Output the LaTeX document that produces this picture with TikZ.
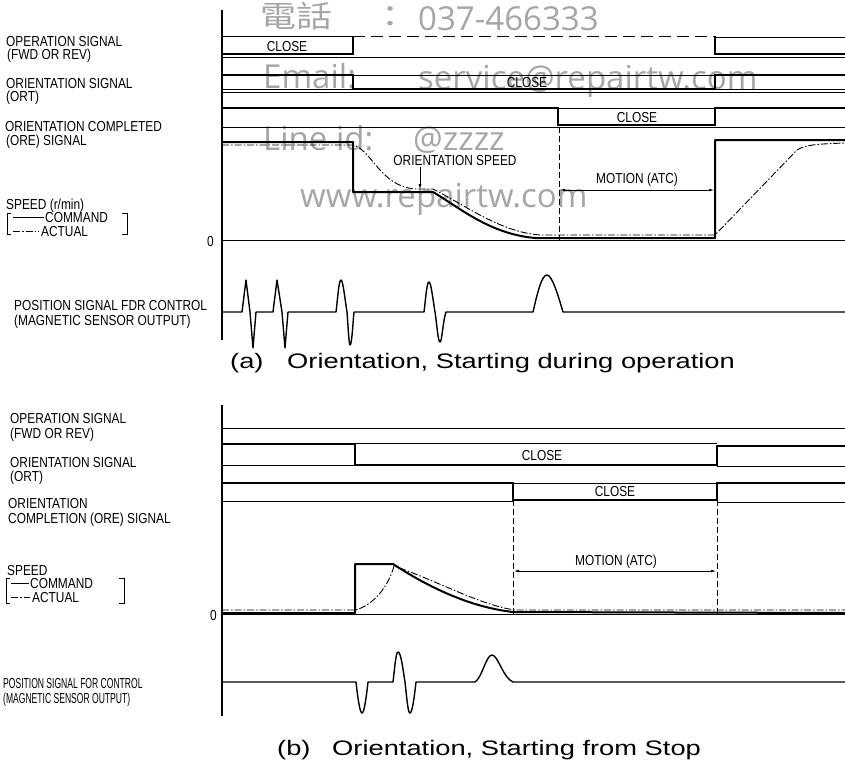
\documentclass[tikz,border=0pt]{standalone}
\usepackage{fontspec}
\usepackage{graphicx}
\usetikzlibrary{arrows.meta}
\setmainfont{Liberation Sans}
\newfontfamily\lblfont[FakeStretch=0.82]{Liberation Sans}
\newfontfamily\capfont[FakeStretch=1.3]{Liberation Sans}
\newfontfamily\wmfont{Open Sans}
\newfontfamily\wmcjk[FakeStretch=1.2]{Noto Sans CJK TC}
\begin{document}
\begin{tikzpicture}[x=1pt,y=-1pt,
  lbl/.style={font=\lblfont\fontsize{14.5}{15}\selectfont, anchor=base west, inner sep=0pt,
    text height=10.4pt, text depth=0.4pt},
  sml/.style={font=\lblfont\fontsize{14.5}{15}\selectfont, inner sep=0pt,
    text height=10.4pt, text depth=0.4pt},
  capt/.style={font=\capfont\fontsize{21}{24}\selectfont, anchor=base west, inner sep=0pt},
  wm/.style={text=black!35, anchor=base west, inner sep=0pt, font=\wmfont\fontsize{33}{36}\selectfont},
  thinl/.style={line width=0.9pt},
  thickl/.style={line width=2pt},
  axisl/.style={line width=1.3pt},
  cmdl/.style={line width=2pt, line join=round},
  actl/.style={line width=0.9pt, dash pattern=on 7pt off 2pt on 1.5pt off 2pt},
  dashv/.style={line width=0.9pt, dash pattern=on 6pt off 3pt},
  pulse/.style={line width=1.4pt, line join=round},
  dimarrow/.style={line width=0.9pt, {Latex[length=6pt,width=2.6pt]}-{Latex[length=6pt,width=2.6pt]}}
]
\useasboundingbox (0,0) rectangle (845,761);
\fill[white] (0,0) rectangle (845,761);

% ---------------- watermark ----------------
\node[wm, font=\wmcjk\fontsize{30}{32}\selectfont] (wmA) at (260,27) {電話};
\node[wm, font=\wmcjk\fontsize{30}{32}\selectfont] (wmB) at (372,27) {：};
\node[wm] (wmC) at (418,30) {037-466333};
\node[wm] (wmD) at (263,88) {Email:};
\node[wm] (wmE) at (418,89) {service@repairtw.com};
\node[wm] (wmF) at (263,150) {Line id:};
\node[wm] (wmG) at (413,150) {@zzzz};
\node[wm] (wmH) at (300,207) {www.repairtw.com};

% =============== (a) ===============
% left labels
\node[lbl] (a1) at (6,46) {OPERATION SIGNAL};
\node[lbl] (a2) at (7,59) {(FWD OR REV)};
\node[lbl] (a3) at (6,88) {ORIENTATION SIGNAL};
\node[lbl] (a4) at (6,101) {(ORT)};
\node[lbl] (a5) at (5,131) {ORIENTATION COMPLETED};
\node[lbl] (a6) at (6,145) {(ORE) SIGNAL};
\node[lbl] (a7) at (6,209) {SPEED (r/min)};
\node[lbl] (a8) at (45,222) {COMMAND};
\node[lbl] (a9) at (41,236) {ACTUAL};
\node[lbl] (a10) at (207,246) {0};
\node[lbl] (a11) at (14,310) {POSITION SIGNAL FDR CONTROL};
\node[lbl] (a12) at (14,325) {(MAGNETIC SENSOR OUTPUT)};
% legend marks
\draw[thinl] (11,213) -- (7,213) -- (7,234) -- (11,234);
\draw[thinl] (122,213) -- (127,213) -- (127,234) -- (122,234);
\draw[thinl] (13,217) -- (44,217);
\draw[actl] (13,231) -- (39,231);

% axis
\draw[axisl] (222,10) -- (222,340);

% operation signal
\draw[thinl] (222,36) -- (353,36);
\draw[thickl] (222,54) -- (353,54) -- (353,36);
\draw[thinl, dash pattern=on 12pt off 6pt] (353,36) -- (715,36);
\draw[thickl] (715,36) -- (715,54) -- (845,54);
\draw[thinl] (715,37) -- (845,37);
\draw[thinl] (222,57) -- (845,57);
\node[sml] (aC1) at (287,46) {CLOSE};

% orientation signal
\draw[thinl] (353,75) -- (715,75);
\draw[thinl] (222,89) -- (353,89);
\draw[thinl] (715,89) -- (845,89);
\draw[thickl] (222,75) -- (353,75) -- (353,89) -- (715,89) -- (715,75) -- (845,75);
\draw[thinl] (222,92) -- (845,92);
\node[sml] (aC2) at (527,82) {CLOSE};

% orientation completed
\draw[thinl] (558,108) -- (715,108);
\draw[thickl] (222,108) -- (558,108) -- (558,125) -- (715,125) -- (715,108) -- (845,108);
\draw[thinl] (222,127) -- (845,127);
\node[sml] (aC3) at (637,117) {CLOSE};

% speed
\draw[thinl] (222,240) -- (845,240);
\draw[cmdl] (222,142) -- (353,142) -- (353,192) -- (433,192)
  .. controls (460,208) and (490,234) .. (535,238) -- (715,238) -- (715,140) -- (845,140);
\draw[actl] (222,145) -- (353,145) .. controls (372,150) and (380,186) .. (415,189)
  -- (433,189) .. controls (465,205) and (500,232) .. (540,235) -- (715,235)
  -- (797,150) .. controls (805,145) and (815,144) .. (845,143);
\node[sml] (aOS) at (455,160) {ORIENTATION SPEED};
\coordinate (aOSt) at (420,167);
\coordinate (aOSh) at (420,190);
\draw[line width=0.9pt, -{Latex[length=6pt,width=3pt]}] (aOSt) -- (aOSh);
\coordinate (aV1) at (559,127);
\coordinate (aV2) at (559,240);
\draw[dashv] (aV1) -- (aV2);
\coordinate (aM1) at (559,190);
\coordinate (aM2) at (715,190);
\draw[dimarrow] (aM1) -- (aM2);
\node[sml] (aMT) at (637,178) {MOTION (ATC)};

% position signal
\draw[pulse] (222,312) -- (242,312) -- (246,280) -- (250,312) -- (253,348) -- (256,312)
  -- (273,312) -- (277,280) -- (282,312) -- (285,348) -- (288,312)
  -- (336,312) .. controls (338,295) and (339,280) .. (341,280)
  .. controls (343,280) and (345,300) .. (347,312)
  .. controls (348,325) and (349,345) .. (350,345)
  .. controls (352,345) and (353,320) .. (354,312)
  -- (424,312) .. controls (426,295) and (427,282) .. (429,282)
  .. controls (431,282) and (433,300) .. (435,312)
  .. controls (437,325) and (438,342) .. (440,342)
  .. controls (442,342) and (443,320) .. (446,312)
  -- (533,312) .. controls (538,290) and (542,275) .. (547,275)
  .. controls (552,275) and (558,295) .. (563,312) -- (845,312);

\node[capt] (capA1) at (230,368) {(a)};
\node[capt] (capA2) at (287,368) {Orientation, Starting during operation};

% =============== (b) ===============
\node[lbl] (b1) at (10,423) {OPERATION SIGNAL};
\node[lbl] (b2) at (10,438) {(FWD OR REV)};
\node[lbl] (b3) at (10,467) {ORIENTATION SIGNAL};
\node[lbl] (b4) at (10,481) {(ORT)};
\node[lbl] (b5) at (8,508) {ORIENTATION};
\node[lbl] (b6) at (8,523) {COMPLETION (ORE) SIGNAL};
\node[lbl] (b7) at (7,575) {SPEED};
\node[lbl] (b8) at (30,588) {COMMAND};
\node[lbl] (b9) at (32,602) {ACTUAL};
\node[lbl] (b10) at (210,620) {0};
\node[lbl] (b11) at (3,688) {\scalebox{0.72}[1]{POSITION SIGNAL FOR CONTROL}};
\node[lbl] (b12) at (3,703) {\scalebox{0.72}[1]{(MAGNETIC SENSOR OUTPUT)}};
\draw[thinl] (10,578) -- (6,578) -- (6,603) -- (10,603);
\draw[thinl] (119,578) -- (124,578) -- (124,603) -- (119,603);
\draw[thinl] (11,583) -- (29,583);
\draw[actl] (11,597) -- (30,597);

\draw[axisl] (222,405) -- (222,716);

% operation
\draw[thinl] (222,428) -- (845,428);
\draw[thinl] (222,443) -- (717,443);
% orientation
\draw[thinl] (222,465) -- (355,465);
\draw[thinl] (717,466) -- (845,466);
\draw[thickl] (222,444) -- (355,444) -- (355,465) -- (717,465) -- (717,446) -- (845,446);
\node[sml] (bC1) at (542,455) {CLOSE};
% orientation completion
\draw[thinl] (513,483) -- (717,483);
\draw[thinl] (222,501) -- (513,501);
\draw[thinl] (717,502) -- (845,502);
\draw[thickl] (222,483) -- (513,483) -- (513,500) -- (717,500) -- (717,483) -- (845,483);
\node[sml] (bC2) at (615,491) {CLOSE};

% speed
\draw[thinl] (222,614) -- (845,614);
\draw[cmdl] (222,613) -- (355,613) -- (355,564) -- (393,564)
  .. controls (430,588) and (470,607) .. (513,612) -- (845,613);
\draw[actl] (222,610) -- (355,610) .. controls (372,606) and (388,588) .. (394,566)
  .. controls (440,582) and (480,605) .. (515,610) -- (845,610);
\coordinate (bV1) at (513,500);
\coordinate (bV2) at (513,614);
\coordinate (bV3) at (717,500);
\coordinate (bV4) at (717,614);
\draw[dashv] (bV1) -- (bV2);
\draw[dashv] (bV3) -- (bV4);
\coordinate (bM1) at (513,571);
\coordinate (bM2) at (717,571);
\draw[dimarrow] (bM1) -- (bM2);
\node[sml] (bMT) at (616,560) {MOTION (ATC)};

% position
\draw[pulse] (222,682) -- (356,682) .. controls (358,700) and (360,713) .. (362,713)
  .. controls (364,713) and (366,700) .. (368,682)
  -- (393,682) .. controls (395,665) and (396,652) .. (398,652)
  .. controls (401,652) and (403,670) .. (405,682)
  .. controls (407,700) and (408,713) .. (410,713)
  .. controls (412,713) and (414,700) .. (416,682)
  -- (475,682) .. controls (482,678) and (486,655) .. (492,655)
  .. controls (498,655) and (503,678) .. (513,682) -- (845,682);

\node[capt] (capB1) at (277,755) {(b)};
\node[capt] (capB2) at (332,755) {Orientation, Starting from Stop};
\end{tikzpicture}
\end{document}
